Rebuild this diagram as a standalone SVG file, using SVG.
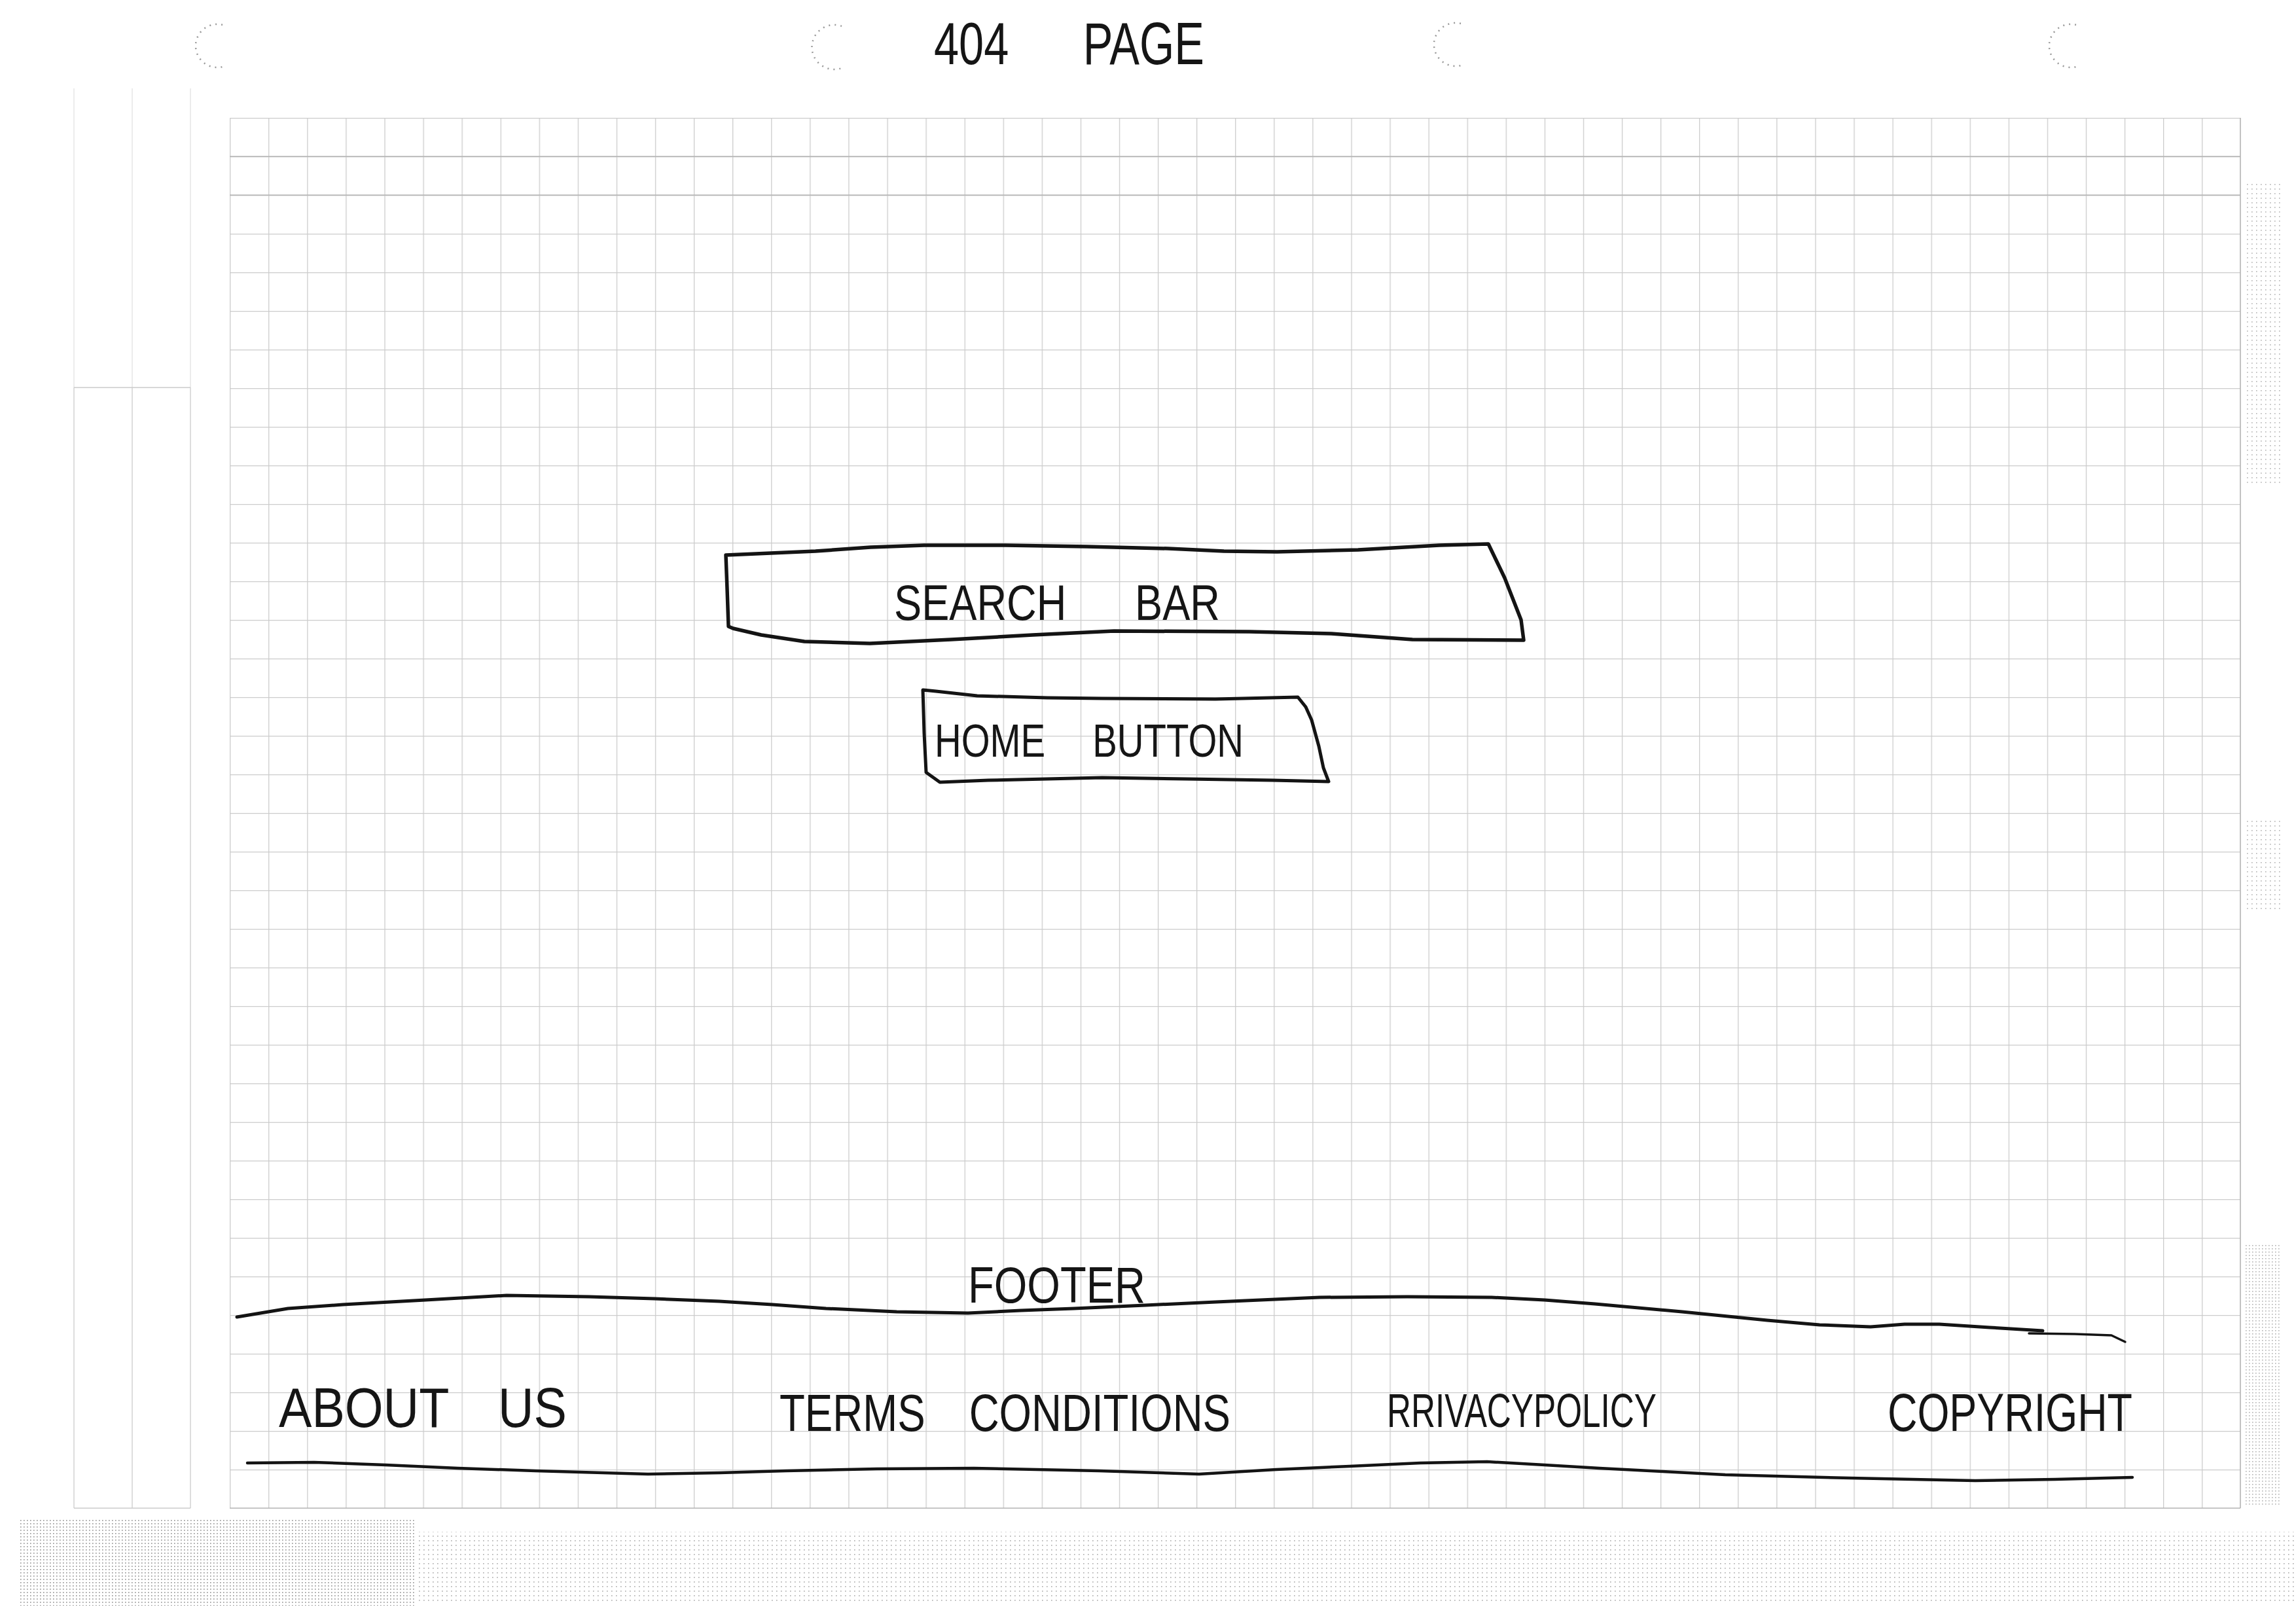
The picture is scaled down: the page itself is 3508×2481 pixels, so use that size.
<svg xmlns="http://www.w3.org/2000/svg" width="3508" height="2481" viewBox="0 0 3508 2481">
<style>
.hand{font-family:"Liberation Sans",Arial,sans-serif;fill:#151515;}
.ink{fill:none;stroke:#141414;stroke-linecap:round;stroke-linejoin:round;}
.grid{stroke:#cccccc;stroke-width:1.3;fill:none;}
.gridd{stroke:#b4b4b4;stroke-width:1.6;fill:none;}
.gridf{stroke:#e2e2e2;stroke-width:1.3;fill:none;}
.hole{fill:none;stroke:#9a9a9a;stroke-width:2.5;stroke-dasharray:2 7;}
</style>
<defs>
<pattern id="gridp" x="351" y="180" width="59.08" height="59" patternUnits="userSpaceOnUse">
<path d="M0,0.65 H59.08 M0.65,0 V59" class="grid"/>
</pattern>
<pattern id="stip" width="5" height="5" patternUnits="userSpaceOnUse">
<rect x="1" y="2" width="1.6" height="1.6" fill="#555"/>
</pattern>
<pattern id="stip2" width="7" height="7" patternUnits="userSpaceOnUse">
<rect x="3" y="1" width="1.6" height="1.6" fill="#666"/>
</pattern>
</defs>
<rect width="3508" height="2481" fill="#ffffff"/>

<g id="paper">
<rect x="351" y="180" width="3072" height="2124" fill="url(#gridp)"/>
<path class="gridd" d="M351,239 H3423 M351,298 H3423 M3423,180 V2304 M351,2304 H3423"/>
<path class="gridf" d="M113,135 V592 M202,135 V592 M291,135 V592"/>
<path class="grid" d="M113,592 V2304 M202,592 V2304 M291,592 V2304 M113,592 H291 M113,2304 H291"/>
<path class="hole" d="M340,38 A33,33 0 1 0 340,102"/>
<path class="hole" d="M1286,40 A34,34 0 1 0 1286,104"/>
<path class="hole" d="M2232,36 A33,33 0 1 0 2232,100"/>
<path class="hole" d="M3172,38 A33,33 0 1 0 3172,102"/>
<rect x="30" y="2322" width="605" height="131" fill="url(#stip)" opacity="0.65"/>
<rect x="635" y="2340" width="2873" height="110" fill="url(#stip2)" opacity="0.55"/>
<rect x="3428" y="280" width="58" height="460" fill="url(#stip2)" opacity="0.5"/>
<rect x="3428" y="1250" width="58" height="140" fill="url(#stip2)" opacity="0.5"/>
<rect x="3428" y="1900" width="58" height="400" fill="url(#stip)" opacity="0.45"/>
</g>

<g id="title">
<text class="hand" x="1427" y="98" font-size="90" word-spacing="124" textLength="413" lengthAdjust="spacingAndGlyphs">404 PAGE</text>
</g>

<g id="search-bar">
<path class="ink" stroke-width="5.5" d="M1109,848 L1246,842 L1330,836 L1412,833 L1536,833 L1660,835 L1785,838 L1870,842 L1951,843 L2075,840 L2199,833 L2274,831 L2299,883 L2324,947 L2328,978 L2158,977 L2034,968 L1909,965 L1702,964 L1578,970 L1453,977 L1329,983 L1229,980 L1163,970 L1120,960 L1113,957 L1111,900 Z"/>
<text class="hand" x="1366" y="947" font-size="76" word-spacing="105" textLength="498" lengthAdjust="spacingAndGlyphs">SEARCH BAR</text>
</g>

<g id="home-button">
<path class="ink" stroke-width="5" d="M1410,1054 L1430,1056 L1493,1063 L1600,1066 L1684,1067 L1857,1068 L1983,1065 L1995,1080 L2004,1100 L2015,1140 L2022,1173 L2030,1194 L1944,1192 L1814,1190 L1684,1188 L1510,1192 L1436,1195 L1415,1180 L1412,1120 Z"/>
<text class="hand" x="1428" y="1156" font-size="70" word-spacing="70" textLength="472" lengthAdjust="spacingAndGlyphs">HOME BUTTON</text>
</g>

<g id="footer">
<path class="ink" stroke-width="5" d="M362,2012 L440,1999 L524,1993 L650,1986 L774,1979 L900,1981 L1000,1984 L1099,1988 L1180,1993 L1262,1999 L1370,2004 L1479,2006 L1560,2002 L1641,1999 L1750,1994 L1858,1989 L2016,1982 L2150,1981 L2279,1982 L2360,1986 L2437,1992 L2570,2004 L2700,2017 L2780,2024 L2858,2027 L2910,2023 L2963,2023 L3040,2028 L3121,2033"/>
<path class="ink" stroke-width="3.5" d="M3100,2037 L3170,2038 L3226,2040 L3247,2050"/>
<text class="hand" x="1479" y="1990" font-size="78" textLength="271" lengthAdjust="spacingAndGlyphs">FOOTER</text>
</g>

<g id="footer-links">
<path class="ink" stroke-width="4.5" d="M378,2235 L480,2234 L589,2238 L700,2243 L818,2247 L990,2252 L1100,2250 L1201,2247 L1340,2244 L1488,2243 L1679,2247 L1832,2252 L1950,2245 L2062,2240 L2170,2235 L2272,2233 L2360,2238 L2444,2243 L2540,2248 L2636,2253 L2827,2258 L3018,2262 L3140,2260 L3258,2257"/>
<g id="about-us"><text class="hand" x="426" y="2180" font-size="85" word-spacing="62" textLength="440" lengthAdjust="spacingAndGlyphs">ABOUT US</text></g>
<g id="terms-conditions"><text class="hand" x="1191" y="2186" font-size="80" word-spacing="62" textLength="689" lengthAdjust="spacingAndGlyphs">TERMS CONDITIONS</text></g>
<g id="privacy-policy"><text class="hand" x="2119" y="2180" font-size="73" textLength="412" lengthAdjust="spacingAndGlyphs">RRIVACYPOLICY</text></g>
<g id="copyright"><text class="hand" x="2884" y="2186" font-size="82" textLength="374" lengthAdjust="spacingAndGlyphs">COPYRIGHT</text></g>
</g>
</svg>
